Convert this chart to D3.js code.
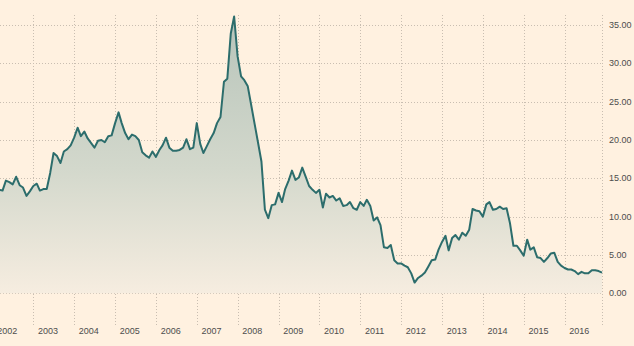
<!DOCTYPE html>
<html>
<head>
<meta charset="utf-8">
<script src="https://cdn.jsdelivr.net/npm/d3@7/dist/d3.min.js"></script>
<style>
  html, body { margin: 0; padding: 0; background: #fff1e0; }
  svg { display: block; }
  text { font-family: "Liberation Sans", Arial, sans-serif; }
</style>
</head>
<body>
<svg id="chart" width="634" height="346"></svg>
<script>
// Monthly series, first value is March 2002
const seriesStart = "2002-03";
const monthlyValues = [
  // 2002 (Mar-Dec)
  13.5, 13.4, 14.7, 14.5, 14.2, 15.2, 14.1, 13.8, 12.7, 13.3,
  // 2003
  14.0, 14.3, 13.4, 13.6, 13.6, 15.7, 18.3, 17.9, 17.0, 18.5, 18.8, 19.3,
  // 2004
  20.3, 21.6, 20.5, 21.1, 20.2, 19.6, 19.0, 19.9, 20.0, 19.7, 20.5, 20.6,
  // 2005
  22.2, 23.6, 22.2, 20.9, 20.1, 20.7, 20.5, 20.0, 18.4, 18.0, 17.7, 18.5,
  // 2006
  17.8, 18.7, 19.3, 20.3, 19.0, 18.6, 18.6, 18.7, 19.0, 20.1, 18.8, 19.0,
  // 2007
  22.2, 19.5, 18.3, 19.2, 20.1, 20.9, 22.2, 23.0, 27.6, 28.0, 33.9, 36.1,
  // 2008
  30.9, 28.3, 27.8, 27.0, 24.6, 22.1, 19.7, 17.2, 10.9, 9.8, 11.5, 11.6,
  // 2009
  13.1, 11.9, 13.6, 14.7, 16.0, 14.8, 15.1, 16.4, 15.2, 14.0, 13.5, 13.1,
  // 2010
  13.5, 11.2, 13.0, 12.5, 12.7, 12.1, 12.4, 11.4, 11.5, 11.9, 11.1, 10.9,
  // 2011
  11.9, 11.4, 12.2, 11.4, 9.5, 9.9, 8.9, 6.0, 5.9, 6.3, 4.3, 3.9,
  // 2012
  3.9, 3.6, 3.4, 2.6, 1.4, 2.0, 2.3, 2.7, 3.5, 4.3, 4.4, 5.7,
  // 2013
  6.7, 7.5, 5.6, 7.2, 7.6, 7.0, 7.9, 7.5, 8.3, 11.0, 10.8, 10.7,
  // 2014
  10.0, 11.6, 11.9, 10.9, 11.0, 11.3, 11.0, 11.1, 9.1, 6.2, 6.2, 5.6,
  // 2015
  4.9, 7.0, 5.7, 6.0, 4.7, 4.6, 4.1, 4.6, 5.2, 5.3, 4.1, 3.6,
  // 2016
  3.3, 3.1, 3.1, 2.9, 2.5, 2.8, 2.6, 2.6, 3.0, 3.0, 2.9, 2.7
];
const yTickValues = [0, 5, 10, 15, 20, 25, 30, 35];
const yearLabels = [2002, 2003, 2004, 2005, 2006, 2007, 2008, 2009, 2010,
                    2011, 2012, 2013, 2014, 2015, 2016];

// Layout
const W = 634, H = 346;
const plotLeft = 0, plotRight = 602;
const gridTop = 15, tickBottom = 325;

const svg = d3.select("#chart");
svg.append("rect").attr("width", W).attr("height", H).attr("fill", "#fff1e0");

const start = d3.timeParse("%Y-%m")(seriesStart);
const data = monthlyValues.map((v, i) => ({ date: d3.timeMonth.offset(start, i), value: v }));

const x = d3.scaleTime()
  .domain([new Date(2003, 0, 1), new Date(2015, 0, 1)])
  .range([33.3, 523.7]);
const y = d3.scaleLinear().domain([0, 35]).range([293.3, 25]);

const gridColor = "#c9beb1";

// Horizontal grid lines
svg.append("g").selectAll("line")
  .data(yTickValues)
  .join("line")
  .attr("x1", plotLeft).attr("x2", plotRight + 1)
  .attr("y1", d => Math.round(y(d)) + 0.5).attr("y2", d => Math.round(y(d)) + 0.5)
  .attr("stroke", gridColor).attr("stroke-width", 1)
  .attr("stroke-dasharray", "1,2");

// Vertical year lines, plus the right-hand edge of the plot
const yearDates = yearLabels.map(yr => new Date(yr, 0, 1));
svg.append("g").selectAll("line")
  .data(yearDates.map(d => x(d)).concat([plotRight]))
  .join("line")
  .attr("x1", d => Math.round(d) + 0.5).attr("x2", d => Math.round(d) + 0.5)
  .attr("y1", gridTop).attr("y2", tickBottom)
  .attr("stroke", gridColor).attr("stroke-width", 1)
  .attr("stroke-dasharray", "1,2");

// Gradient fill under the line
const defs = svg.append("defs");
const grad = defs.append("linearGradient")
  .attr("id", "areaFill")
  .attr("gradientUnits", "userSpaceOnUse")
  .attr("x1", 0).attr("x2", 0)
  .attr("y1", y(36)).attr("y2", y(0));
grad.append("stop").attr("offset", "0%").attr("stop-color", "#b7c4ba");
grad.append("stop").attr("offset", "55%").attr("stop-color", "#d3d8cc");
grad.append("stop").attr("offset", "100%").attr("stop-color", "#f6ede0");

const area = d3.area()
  .x(d => x(d.date))
  .y0(y(0))
  .y1(d => y(d.value));

const line = d3.line()
  .x(d => x(d.date))
  .y(d => y(d.value));

svg.append("path")
  .datum(data)
  .attr("d", area)
  .attr("fill", "url(#areaFill)");

svg.append("path")
  .datum(data)
  .attr("d", line)
  .attr("fill", "none")
  .attr("stroke", "#2c6d6c")
  .attr("stroke-width", 2)
  .attr("stroke-linejoin", "round");

// Y axis labels on the right
svg.append("g").selectAll("text")
  .data(yTickValues)
  .join("text")
  .attr("x", 609)
  .attr("y", d => y(d))
  .attr("dy", "0.35em")
  .attr("font-size", 9)
  .attr("fill", "#4d4d4d")
  .text(d => d3.format(".2f")(d));

// Year labels, set just right of each year line
svg.append("g").selectAll("text")
  .data(yearDates)
  .join("text")
  .attr("x", d => x(d) + 4.7)
  .attr("y", 334)
  .attr("font-size", 9)
  .attr("fill", "#4d4d4d")
  .text(d => d3.timeFormat("%Y")(d));
</script>
</body>
</html>
